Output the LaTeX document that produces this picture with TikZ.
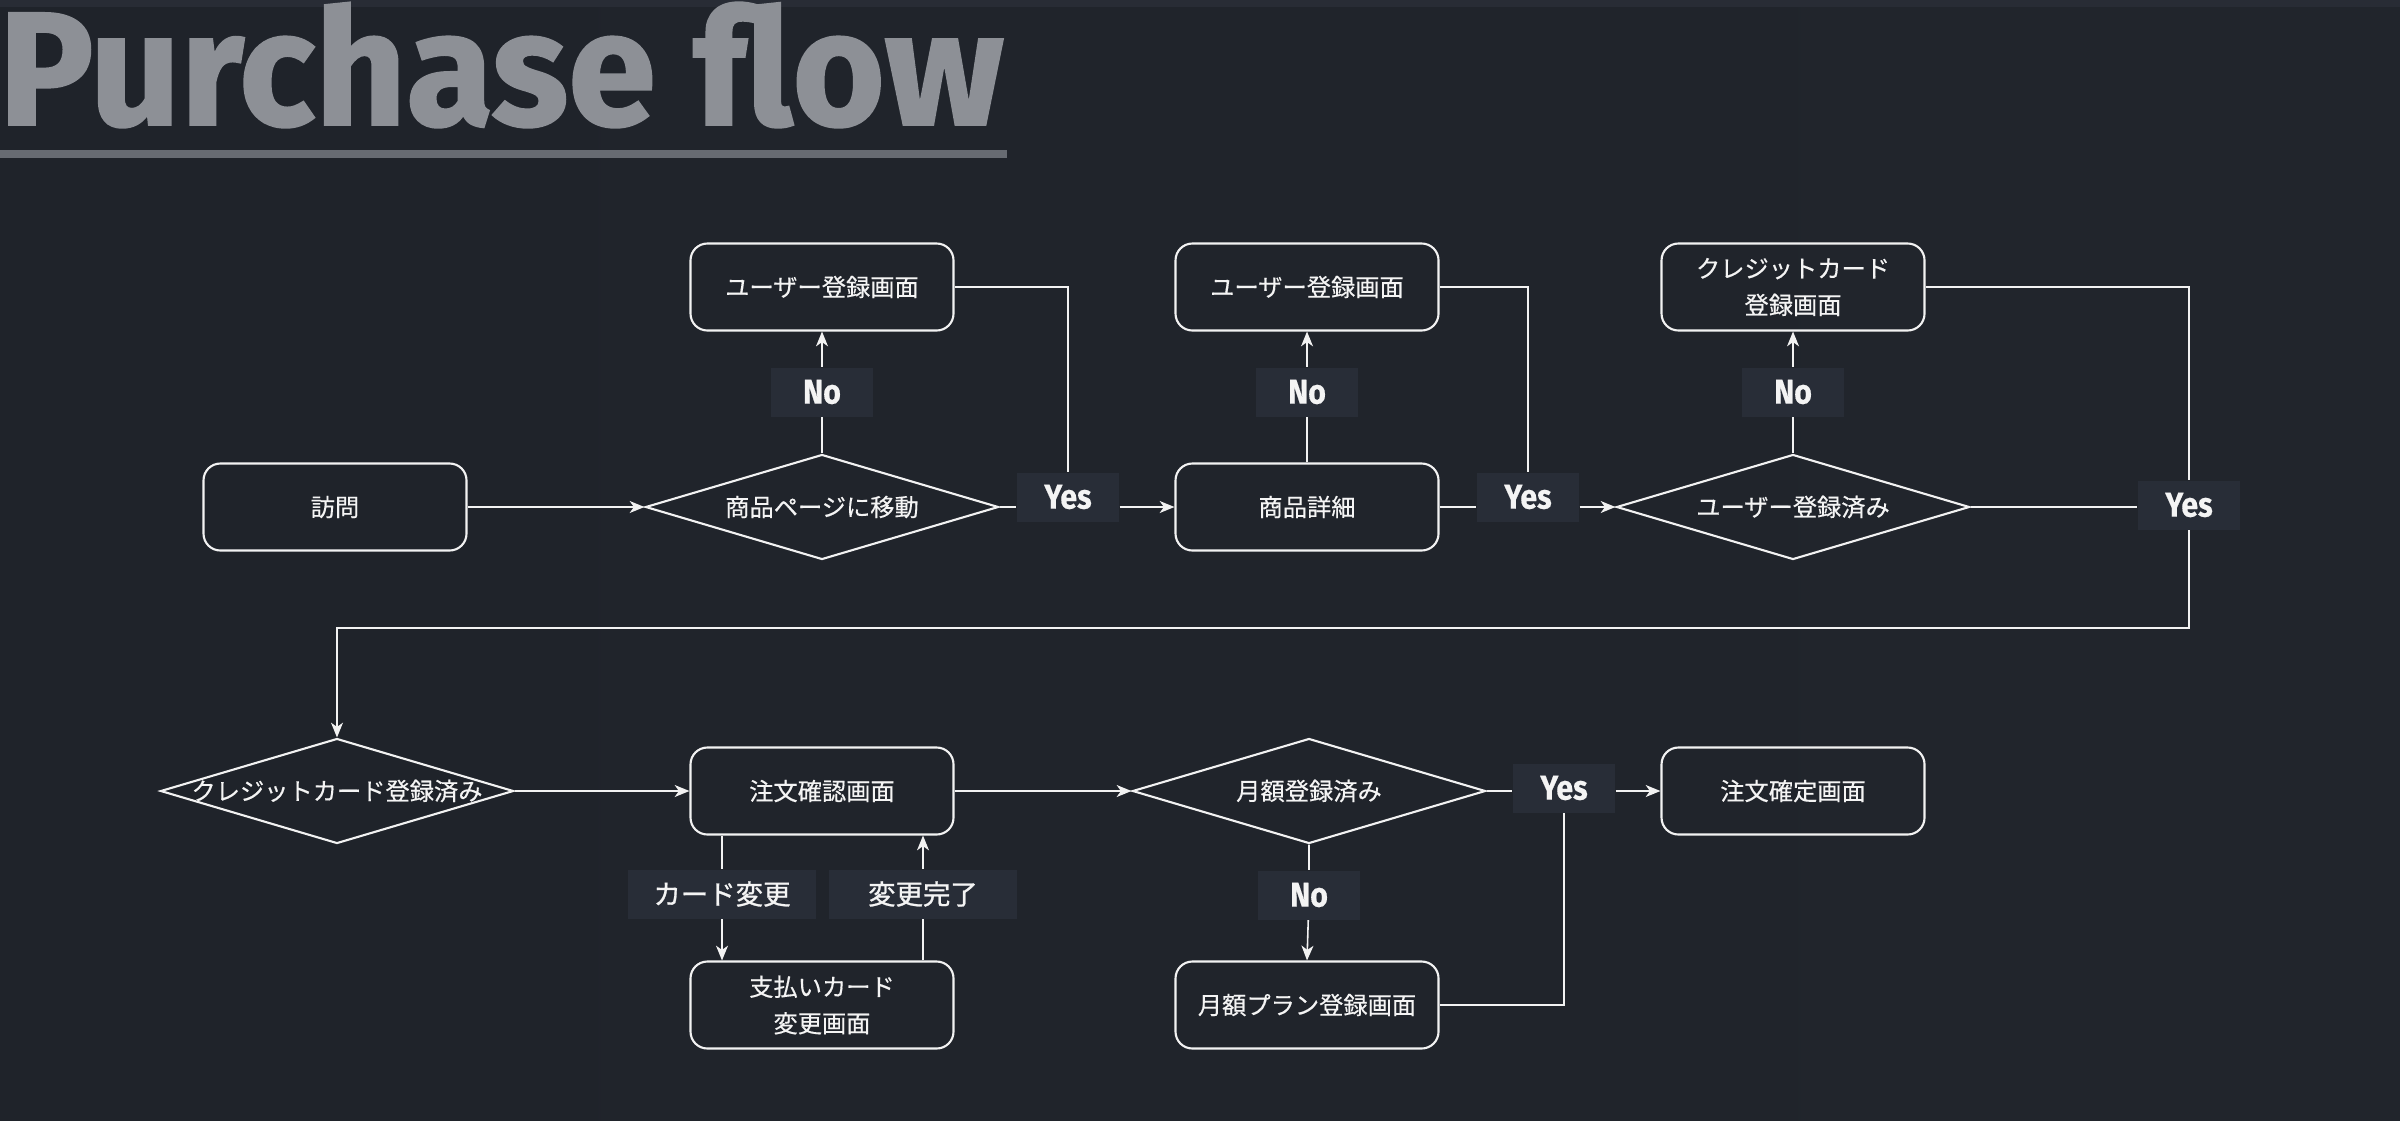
\documentclass[tikz,border=0pt]{standalone}
\usepackage{fontspec}
\usetikzlibrary{shapes.geometric,arrows.meta}
\setmainfont{Fira Sans}
\newfontfamily\jpfont[FakeBold=0.4]{Noto Sans CJK JP}
\newfontfamily\jptagfont[FakeBold=0.9]{Noto Sans CJK JP}
\newfontfamily\titlefont[FakeStretch=0.98,FakeBold=1.2]{Fira Sans}
\newfontfamily\tagfont[FakeStretch=0.88,FakeBold=0.5]{Fira Sans}
\definecolor{bgleft}{HTML}{1F232A}
\definecolor{bgmid}{HTML}{242830}
\definecolor{bgright}{HTML}{21252C}
\definecolor{topband}{HTML}{282C35}
\definecolor{titlecol}{HTML}{8D9096}
\definecolor{rulecol}{HTML}{676B72}
\definecolor{linecol}{HTML}{F2F2F2}
\definecolor{textcol}{HTML}{F4F4F4}
\definecolor{tagcol}{HTML}{282D37}
\newcommand{\dtext}[1]{\makebox[0pt]{#1}}

\begin{document}
\begin{tikzpicture}[
    box/.style={draw=linecol,line width=0.6pt,rounded corners=4.8pt,minimum width=2.63cm,minimum height=0.87cm,text=textcol,align=center,font=\jpfont\fontsize{6.9}{10.4}\selectfont},
    decision/.style={diamond,draw=linecol,line width=0.6pt,minimum width=3.53cm,minimum height=1.05cm,inner sep=0pt,text=textcol,font=\jpfont\fontsize{6.9}{10.4}\selectfont},
    tag/.style={fill=tagcol,minimum width=1.02cm,minimum height=0.49cm,inner sep=0pt,text=textcol,font=\tagfont\bfseries\fontsize{9.8}{11}\selectfont},
    jptag/.style={tag,minimum width=1.88cm,font=\jptagfont\fontsize{7.8}{9}\selectfont},
    flow/.style={draw=linecol,line width=0.45pt},
    >={Stealth[length=4.2pt,width=3.4pt,inset=1.2pt]}
    ]
    \useasboundingbox (0,0) rectangle (24,-11.2);
    \shade[left color=bgleft,middle color=bgmid,right color=bgright] (0,0) rectangle (24,-11.2);
    \fill[topband] (0,0) rectangle (24,-0.07);

    \node (title) at (-0.02,-1.25) [anchor=base west,inner sep=0pt,text=titlecol,font=\titlefont\bfseries\fontsize{46}{46}\selectfont] {Purchase flow};
    \fill[rulecol] (0,-1.50) rectangle (10.07,-1.58);

    \node (visit) at (3.35,-5.07) [box] {訪問};
    \node (move) at (8.22,-5.07) [decision] {\dtext{商品ページに移動}};
    \node (reg1) at (8.22,-2.87) [box] {ユーザー登録画面};
    \node (detail) at (13.07,-5.07) [box] {商品詳細};
    \node (reg2) at (13.07,-2.87) [box] {ユーザー登録画面};
    \node (registered) at (17.93,-5.07) [decision] {\dtext{ユーザー登録済み}};
    \node (cardreg) at (17.93,-2.87) [box] {クレジットカード\\登録画面};

    \node (hascard) at (3.37,-7.91) [decision] {\dtext{クレジットカード登録済み}};
    \node (confirm) at (8.22,-7.91) [box] {注文確認画面};
    \node (monthly) at (13.09,-7.91) [decision] {\dtext{月額登録済み}};
    \node (done) at (17.93,-7.91) [box] {注文確定画面};
    \node (pay) at (8.22,-10.05) [box] {支払いカード\\変更画面};
    \node (plan) at (13.07,-10.05) [box] {月額プラン登録画面};

    \foreach \n/\x/\y in {no1/8.22/-3.92,no2/13.07/-3.92,no3/17.93/-3.92,no4/13.09/-8.95}
        \node (\n) at (\x,\y) [tag] {No};
    \foreach \n/\x/\y in {yes1/10.68/-4.97,yes2/15.28/-4.97,yes3/21.89/-5.05,yes4/15.64/-7.88}
        \node (\n) at (\x,\y) [tag] {Yes};
    \node (cardchg) at (7.22,-8.94) [jptag] {カード変更};
    \node (chgdone) at (9.23,-8.94) [jptag] {変更完了};

    \draw[flow,->] (visit.east) -- (move.west);
    \draw[flow,->] (move.north) -- (no1) -- (reg1.south);
    \draw[flow] (reg1.east) -| (yes1.north);
    \draw[flow] (move.east) -- (move.east -| yes1.west);
    \draw[flow,->] (yes1.east |- detail) -- (detail.west);

    \draw[flow,->] (detail.north) -- (no2) -- (reg2.south);
    \draw[flow] (reg2.east) -| (yes2.north);
    \draw[flow] (detail.east) -- (detail.east -| yes2.west);
    \draw[flow,->] (yes2.east |- registered) -- (registered.west);

    \draw[flow,->] (registered.north) -- (no3) -- (cardreg.south);
    \draw[flow] (cardreg.east) -| (yes3.north);
    \draw[flow] (registered.east) -- (registered.east -| yes3.west);
    \draw[flow,->] (yes3.south) -- ++(0,-0.98) -| (hascard.north);

    \draw[flow,->] (hascard.east) -- (confirm.west);
    \draw[flow,->] (confirm.south -| cardchg) -- (cardchg) -- (pay.north -| cardchg);
    \draw[flow,->] (pay.north -| chgdone) -- (chgdone) -- (confirm.south -| chgdone);
    \draw[flow,->] (confirm.east) -- (monthly.west);
    \draw[flow] (monthly.east) -- (monthly.east -| yes4.west);
    \draw[flow,->] (yes4.east |- done) -- (done.west);
    \draw[flow,->] (monthly.south) -- (no4) -- (plan.north);
    \draw[flow] (plan.east) -| (yes4.south);
\end{tikzpicture}
\end{document}
